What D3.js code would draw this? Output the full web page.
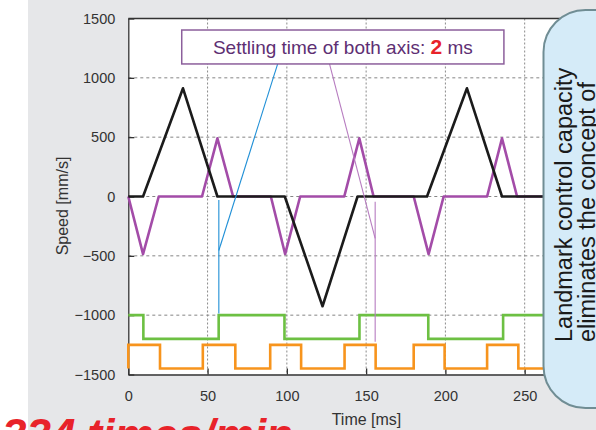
<!DOCTYPE html>
<html><head><meta charset="utf-8">
<script src="https://cdn.jsdelivr.net/npm/d3@7"></script>
<style>html,body{margin:0;padding:0;background:#fff;}svg{display:block;}</style>
</head><body>
<svg id="chart" width="596" height="430"></svg>
<script>
// ---- data ----
const xTicks = [0, 50, 100, 150, 200, 250];
const yTicks = [-1500, -1000, -500, 0, 500, 1000, 1500];
// axis 1 speed (black): [time ms, speed mm/s]
const axis1Speed = [[0,0],[9.3,0],[34.5,912],[56.2,0],[98.7,0],[122.5,-925],[144.6,0],[188.4,0],[213.6,912],[235.7,0],[290,0]];
// axis 2 speed (purple)
const axis2Speed = [[0,0],[9.3,-485],[19.2,0],[46.5,0],[56.2,490],[66.1,0],[89.9,0],[98.9,-485],[108.4,0],[136.2,0],[145.7,490],[154.7,0],[180,0],[189.4,-485],[198.9,0],[226.3,0],[235.7,490],[245.2,0],[290,0]];
// in-position signal axis 1 (green), step after
const signal1Times = [0, 9.5, 57, 98.5, 145.8, 189.2, 236.4, 290];
const signal1Levels = [-1000, -1200, -1000, -1200, -1000, -1200, -1000, -1000];
// in-position signal axis 2 (orange), step after
const signal2Times = [0, 0, 20, 47, 67.5, 89.5, 109, 136.4, 156, 180, 199.5, 226.3, 246, 290];
const signal2Levels = [-1450, -1250, -1450, -1250, -1450, -1250, -1450, -1250, -1450, -1250, -1450, -1250, -1450, -1450];
// annotation leader lines (data coords)
const blueLeader = [[57.1,-30],[57.1,-985]];
const blueDiag = [[57.1,-455],[94.2,1117]];
const purpleDiag = [[126.9,1117],[155.7,-352]];
const purpleLeader = [[155.7,-44],[155.7,-1225]];
const boxCorners = [[33.7,1403],[236.9,1117]];
const labelParts = ["Settling time of both axis: ", "2", " ms"];
const xLabel = "Time [ms]";
const yLabel = "Speed [mm/s]";
const calloutLines = ["Landmark control capacity", "eliminates the concept of"];
const bigText = "334 times/min";

// ---- layout ----
const svg = d3.select("#chart");
const font = "'Liberation Sans', Arial, Helvetica, sans-serif";
const x = d3.scaleLinear().domain([0, 290]).range([128.3, 588.1]);
const y = d3.scaleLinear().domain([-1500, 1500]).range([374.5, 18.5]);

svg.append("rect").attr("x", 28).attr("y", 0).attr("width", 568).attr("height", 430).attr("fill", "#e6e7e9");
svg.append("rect").attr("x", x(0)).attr("y", y(1500)).attr("width", x(290) - x(0)).attr("height", y(-1500) - y(1500)).attr("fill", "#fff");

// grid
const g = svg.append("g");
g.selectAll(".hg").data(yTicks.filter(v => v > -1500 && v < 1500)).join("line")
  .attr("x1", x(0)).attr("x2", x(290)).attr("y1", d => y(d)).attr("y2", d => y(d))
  .attr("stroke", "#858585").attr("stroke-width", 1).attr("stroke-dasharray", "3,3");
g.selectAll(".vg").data(xTicks.filter(v => v > 0)).join("line")
  .attr("x1", d => x(d)).attr("x2", d => x(d)).attr("y1", y(1500)).attr("y2", y(-1500))
  .attr("stroke", "#8a8a8a").attr("stroke-width", 1).attr("stroke-dasharray", "2,2");

// axes
const fmt = d3.format("");
const yAxis = d3.axisLeft(y).tickValues(yTicks).tickFormat(fmt).tickSizeInner(-6).tickSizeOuter(0).tickPadding(13);
const xAxis = d3.axisBottom(x).tickValues(xTicks).tickFormat(fmt).tickSizeInner(-6).tickSizeOuter(0).tickPadding(16);
const ya = svg.append("g").attr("transform", `translate(${x(0)},0)`).call(yAxis);
const xa = svg.append("g").attr("transform", `translate(0,${y(-1500)})`).call(xAxis);
[ya, xa].forEach(a => {
  a.select(".domain").attr("stroke", "#333").attr("stroke-width", 1.3);
  a.selectAll(".tick line").attr("stroke", "#333").attr("stroke-width", 1.3);
  a.selectAll(".tick text").attr("fill", "#333").style("font-family", font).style("font-size", "14.5px");
});
svg.append("line").attr("x1", x(0)).attr("x2", x(290)).attr("y1", y(1500)).attr("y2", y(1500)).attr("stroke", "#333").attr("stroke-width", 1.3);

svg.append("text").attr("x", 366.5).attr("y", 424.5).attr("text-anchor", "middle")
  .style("font-family", font).style("font-size", "16px").attr("fill", "#333").text(xLabel);
svg.append("text").attr("transform", "translate(67.5,206) rotate(-90)").attr("text-anchor", "middle")
  .style("font-family", font).style("font-size", "16px").attr("fill", "#333").text(yLabel);

// series
const line = d3.line().x(d => x(d[0])).y(d => y(d[1]));
const stepLine = d3.line().x(d => x(d[0])).y(d => y(d[1])).curve(d3.curveStepAfter);
const s1 = signal1Times.map((t, i) => [t, signal1Levels[i]]);
const s2 = signal2Times.map((t, i) => [t, signal2Levels[i]]);
svg.append("path").attr("d", stepLine(s1)).attr("fill", "none").attr("stroke", "#6dc043").attr("stroke-width", 2.6);
svg.append("path").attr("d", stepLine(s2)).attr("fill", "none").attr("stroke", "#f7941d").attr("stroke-width", 2.6);
svg.append("path").attr("d", line(axis2Speed)).attr("fill", "none").attr("stroke", "#a34ca8").attr("stroke-width", 2.6).attr("stroke-linejoin", "round");
svg.append("path").attr("d", line(axis1Speed)).attr("fill", "none").attr("stroke", "#1b1b1b").attr("stroke-width", 2.6).attr("stroke-linejoin", "round");

// leaders
[blueLeader, blueDiag].forEach(p => svg.append("path").attr("d", line(p)).attr("fill", "none").attr("stroke", "#1f8fd6").attr("stroke-width", 1.1));
[purpleDiag, purpleLeader].forEach(p => svg.append("path").attr("d", line(p)).attr("fill", "none").attr("stroke", "#b77cc0").attr("stroke-width", 1.1));

// label box
const bx0 = x(boxCorners[0][0]), bx1 = x(boxCorners[1][0]), by0 = y(boxCorners[0][1]), by1 = y(boxCorners[1][1]);
svg.append("rect").attr("x", bx0).attr("y", by0).attr("width", bx1 - bx0).attr("height", by1 - by0)
  .attr("fill", "#fff").attr("stroke", "#8c5f9c").attr("stroke-width", 1.5);
const lt = svg.append("text").attr("x", (bx0 + bx1) / 2).attr("y", 53.8).attr("text-anchor", "middle")
  .style("font-family", font).style("font-size", "19px").attr("fill", "#5e2f73");
lt.append("tspan").text(labelParts[0]);
lt.append("tspan").attr("fill", "#e8232a").style("font-weight", "bold").style("font-size", "21px").text(labelParts[1]);
lt.append("tspan").text(labelParts[2]);

// callout
svg.append("rect").attr("x", 543.5).attr("y", 10).attr("width", 110).attr("height", 398).attr("rx", 42)
  .attr("fill", "#d5ebf8").attr("stroke", "#708d94").attr("stroke-width", 2);
calloutLines.forEach((t, i) => {
  svg.append("text").attr("transform", `translate(${572 + i * 23},342) rotate(-90)`)
    .style("font-family", font).style("font-size", "23.5px").attr("fill", "#1a1a1a").text(t);
});

// big red text
svg.append("text").attr("x", 293).attr("y", 449.5).attr("text-anchor", "end")
  .style("font-family", font).style("font-size", "44px").style("font-weight", "bold").style("font-style", "italic")
  .attr("fill", "#e8232a").text(bigText);
</script>
</body></html>
